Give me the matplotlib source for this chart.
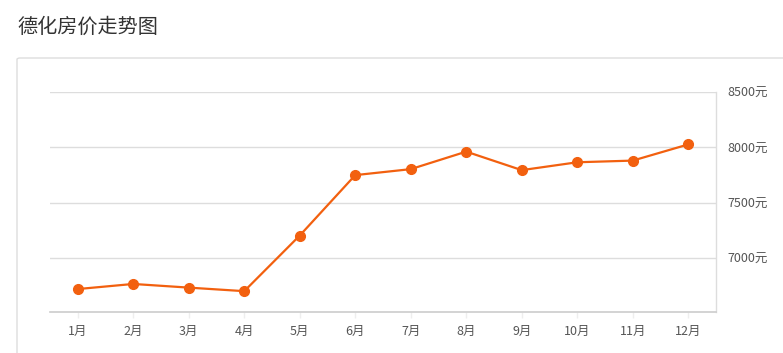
import matplotlib
matplotlib.use("Agg")
import matplotlib.pyplot as plt
from matplotlib.patches import FancyBboxPatch

plt.rcParams['font.family'] = ['Noto Sans CJK SC', 'DejaVu Sans']

title = "德化房价走势图"
months = ["1月", "2月", "3月", "4月", "5月", "6月", "7月", "8月", "9月", "10月", "11月", "12月"]
prices = [6722, 6768, 6735, 6703, 7205, 7750, 7804, 7962, 7795, 7866, 7881, 8027]
yticks = [7000, 7500, 8000, 8500]
ytick_labels = ["7000元", "7500元", "8000元", "8500元"]

W, H = 783, 353
fig = plt.figure(figsize=(W / 100, H / 100), dpi=100)
fig.patch.set_facecolor("white")

# panel border
panel = FancyBboxPatch((17 / W, -10 / H), (W + 20 - 17) / W, (H + 10 - 58) / H,
                       boxstyle="round,pad=0,rounding_size=0.004",
                       transform=fig.transFigure, facecolor="white",
                       edgecolor="#dddddd", linewidth=1.0, zorder=-5)
fig.patches.append(panel)

fig.text(17 / W, 1 - 27 / H, title, fontsize=14.5, color="#333333",
         ha="left", va="center")

ax = fig.add_axes([50 / W, 41 / H, 666 / W, 220 / H], zorder=2)
ax.set_facecolor("none")
x = list(range(len(months)))
ax.plot(x, prices, color="#f2600f", linewidth=1.6, marker="o",
        markersize=7, markerfacecolor="#f2600f", markeredgecolor="#f2600f",
        zorder=3)

ax.set_xlim(-0.5, len(months) - 0.5)
ax.set_ylim(6515, 8500)
ax.set_xticks(x)
ax.set_xticklabels(months)
ax.set_yticks(yticks)
ax.set_yticklabels(ytick_labels)
ax.yaxis.tick_right()
ax.grid(axis="y", color="#dddddd", linewidth=1.0)
ax.set_axisbelow(True)

for s in ["top", "left"]:
    ax.spines[s].set_visible(False)
ax.spines["bottom"].set_color("#cccccc")
ax.spines["bottom"].set_linewidth(1.2)
ax.spines["right"].set_color("#dddddd")
ax.spines["right"].set_linewidth(1.0)

ax.tick_params(axis="x", colors="#eeeeee", length=4, width=1, labelcolor="#555555",
               labelsize=9, pad=5)
ax.tick_params(axis="y", length=0, labelcolor="#555555", labelsize=9, pad=8)

fig.savefig("out.png", dpi=100, facecolor="white")
